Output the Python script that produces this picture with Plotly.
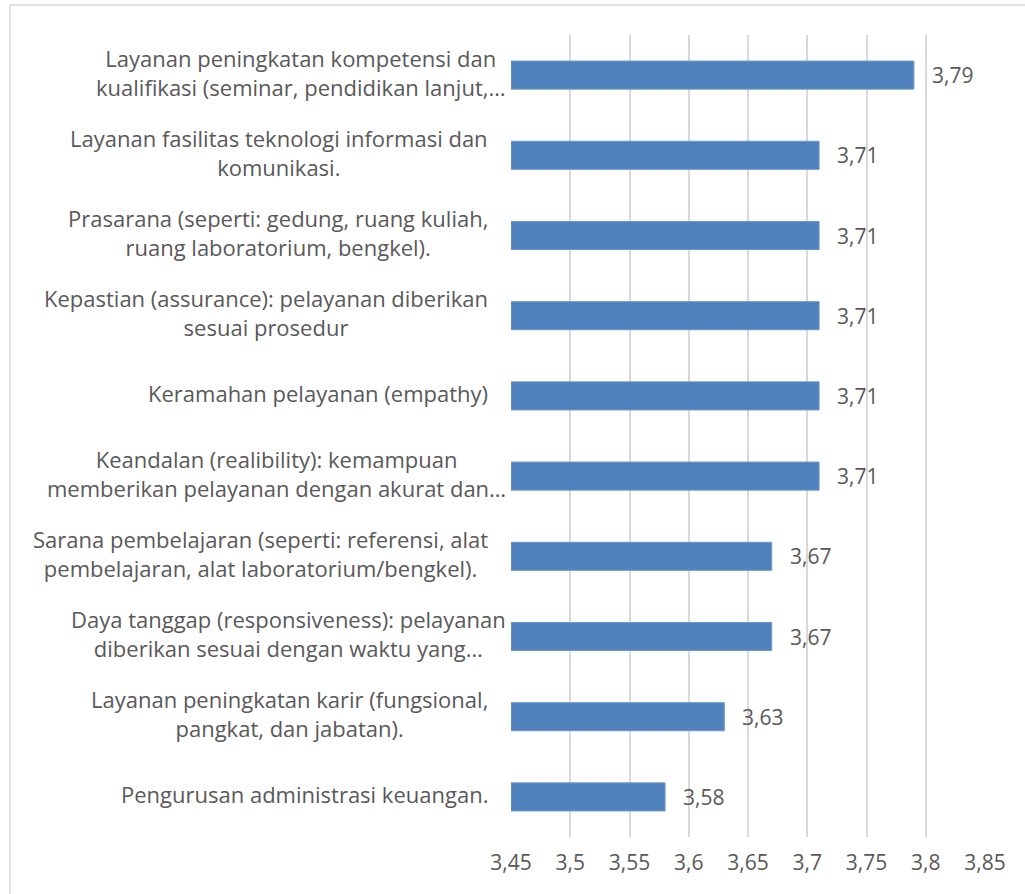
import plotly.graph_objects as go

categories = [
    "Layanan peningkatan kompetensi dan<br>kualifikasi (seminar, pendidikan lanjut,…",
    "Layanan fasilitas teknologi informasi dan<br>komunikasi.",
    "Prasarana (seperti: gedung, ruang kuliah,<br>ruang laboratorium, bengkel).",
    "Kepastian (assurance): pelayanan diberikan<br>sesuai prosedur",
    "Keramahan pelayanan (empathy)",
    "Keandalan (realibility): kemampuan<br>memberikan pelayanan dengan akurat dan…",
    "Sarana pembelajaran (seperti: referensi, alat<br>pembelajaran, alat laboratorium/bengkel).",
    "Daya tanggap (responsiveness): pelayanan<br>diberikan sesuai dengan waktu yang…",
    "Layanan peningkatan karir (fungsional,<br>pangkat, dan jabatan).",
    "Pengurusan administrasi keuangan.",
]
values = [3.79, 3.71, 3.71, 3.71, 3.71, 3.71, 3.67, 3.67, 3.63, 3.58]
value_labels = ["3,79", "3,71", "3,71", "3,71", "3,71", "3,71", "3,67", "3,67", "3,63", "3,58"]
axis_base = 3.45
tick_vals = [3.45, 3.5, 3.55, 3.6, 3.65, 3.7, 3.75, 3.8, 3.85]
tick_text = ["3,45", "3,5", "3,55", "3,6", "3,65", "3,7", "3,75", "3,8", "3,85"]

W, H = 1025, 894
L, R, T, B = 511, 40, 35, 57
pw, ph = W - L - R, H - T - B
FONT = "Open Sans"
TXT = "#595959"

fig = go.Figure()
fig.add_trace(go.Bar(
    y=categories, x=[v - axis_base for v in values], base=axis_base, orientation="h",
    marker=dict(color="#4F81BD", line=dict(color="#6f97c9", width=1)),
    width=0.35, hoverinfo="skip",
))

annotations = []
for c, v, t in zip(categories, values, value_labels):
    annotations.append(dict(x=v, y=c, xref="x", yref="y", text=t, showarrow=False,
                            xanchor="left", xshift=16, font=dict(family=FONT, size=21, color=TXT)))
    right_px = 508 if "…" in c else 490
    annotations.append(dict(x=(right_px - L) / pw, y=c, xref="paper", yref="y", text=c,
                            showarrow=False, xanchor="right", align="center", yshift=3,
                            font=dict(family=FONT, size=22, color=TXT)))

shapes = [
    dict(type="line", xref="paper", yref="paper", x0=(10 - L) / pw, x1=(1030 - L) / pw,
         y0=1 + 30 / ph, y1=1 + 30 / ph, line=dict(color="#d9d9d9", width=1.5)),
    dict(type="line", xref="paper", yref="paper", x0=(10 - L) / pw, x1=(10 - L) / pw,
         y0=1 + 30 / ph, y1=-80 / ph, line=dict(color="#d9d9d9", width=1.5)),
]

fig.update_layout(
    width=W, height=H, margin=dict(l=L, r=R, t=T, b=B),
    plot_bgcolor="white", paper_bgcolor="white", showlegend=False,
    annotations=annotations, shapes=shapes,
    font=dict(family=FONT, color=TXT),
    xaxis=dict(range=[3.45, 3.85], tickvals=tick_vals, ticktext=tick_text,
               showgrid=True, gridcolor="#d9d9d9", gridwidth=1.5, zeroline=False,
               showline=False, ticks="", tickfont=dict(family=FONT, size=21, color=TXT),
               ticklabelstandoff=11),
    yaxis=dict(categoryorder="array", categoryarray=categories, autorange="reversed",
               showticklabels=False, showgrid=False, zeroline=False, showline=False, ticks=""),
)
fig.write_html("out.html", config={"displayModeBar": False},
               post_script="document.body.style.margin='0';document.body.style.overflow='hidden';")
